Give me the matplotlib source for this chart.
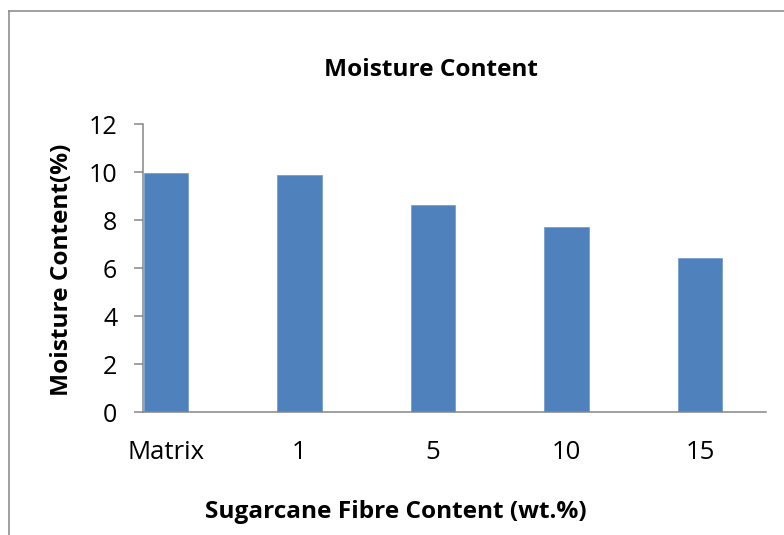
import matplotlib
matplotlib.use('Agg')
import matplotlib.pyplot as plt
from matplotlib.lines import Line2D

categories = ['Matrix', '1', '5', '10', '15']
moisture = [9.96, 9.87, 8.62, 7.70, 6.43]
y_ticks = [0, 2, 4, 6, 8, 10, 12]

W, H = 784, 535
plt.rcParams['font.family'] = ['Open Sans', 'DejaVu Sans']

fig = plt.figure(figsize=(W / 100, H / 100), dpi=100)
# axes box in pixels: left 143, right 766, top 124, bottom 412
ax = fig.add_axes([143 / W, 1 - 412 / H, (766 - 143) / W, (412 - 124) / H])

x = list(range(len(categories)))
ax.bar(x, moisture, width=0.333, color='#4F81BD', edgecolor='#6f98cc', linewidth=0.5)

ax.set_xlim(-0.172, 4.494)
ax.set_ylim(0, 12)
ax.set_yticks(y_ticks)
ax.set_xticks(x)
ax.set_xticklabels(categories, fontsize=18.5)
ax.tick_params(axis='x', length=0, pad=20)
ax.tick_params(axis='y', length=6.5, width=1.1, color='#868686', labelsize=18, pad=12)

for side in ['top', 'right']:
    ax.spines[side].set_visible(False)
for side in ['left', 'bottom']:
    ax.spines[side].set_color('#868686')
    ax.spines[side].set_linewidth(1.1)

fig.text(431 / W, 1 - 70 / H, 'Moisture Content', ha='center', va='center',
         fontsize=17.6, fontweight='bold')
fig.text(62 / W, 1 - 270 / H, 'Moisture Content(%)', ha='center', va='center',
         rotation=90, fontsize=17.6, fontweight='bold')
fig.text(396 / W, 1 - 512 / H, 'Sugarcane Fibre Content (wt.%)', ha='center', va='center',
         fontsize=17.6, fontweight='bold')

# chart-area border (left and top edges visible)
fig.add_artist(Line2D([9 / W, 9 / W], [0, 1 - 11 / H], color='#868686', lw=1.1))
fig.add_artist(Line2D([9 / W, 1], [1 - 11 / H, 1 - 11 / H], color='#868686', lw=1.1))

fig.savefig('out.png', dpi=100)
